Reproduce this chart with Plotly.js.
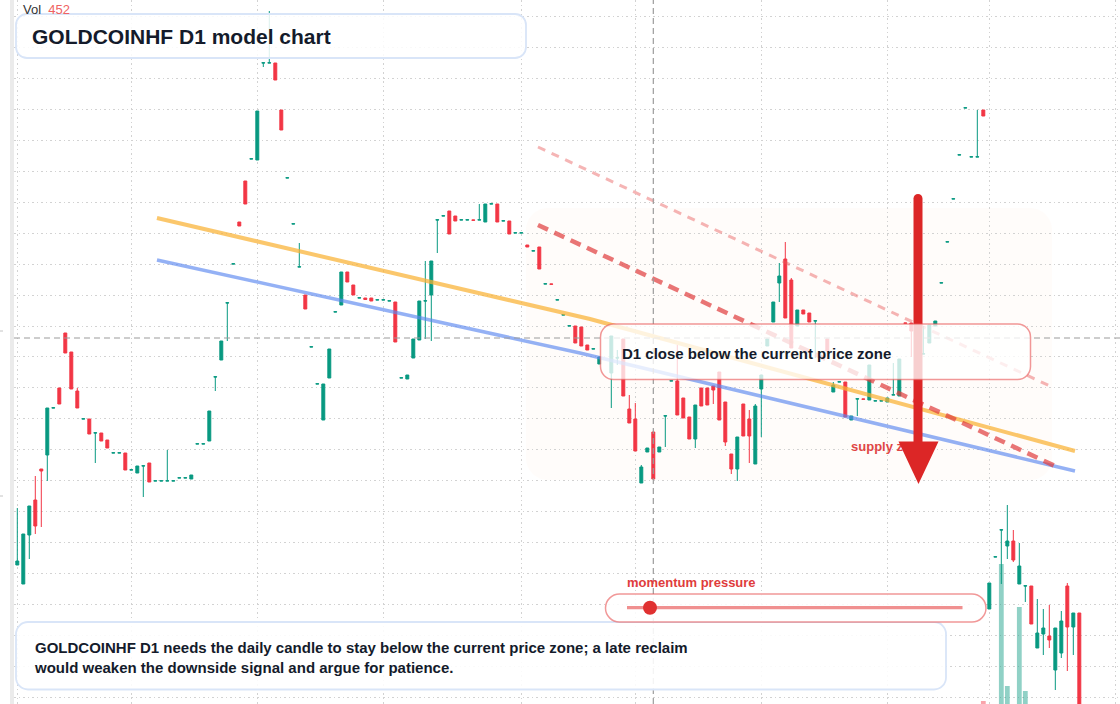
<!DOCTYPE html>
<html>
<head>
<meta charset="utf-8">
<script src="https://cdn.plot.ly/plotly-3.0.1.min.js"></script>
<style>
  html, body { margin: 0; padding: 0; background: #ffffff; }
  #chart { width: 1120px; height: 704px; }
</style>
</head>
<body>
<div id="chart"></div>
<script>
// ---- GOLDCOINHF daily candles (bar number, OHLC, volume) ----
const bar = [
  0,1,2,3,4,5,6,7,8,9,
  10,11,12,13,14,15,16,17,18,19,
  20,21,22,23,24,25,26,27,28,29,
  30,31,32,33,34,35,36,37,38,39,
  40,41,42,43,44,45,46,47,48,49,
  50,51,52,53,54,55,56,57,58,59,
  60,61,62,63,64,65,66,67,68,69,
  70,71,72,73,74,75,76,77,78,79,
  80,81,82,83,84,85,86,87,88,89,
  90,91,92,93,94,95,96,97,
  99,100,101,102,103,104,105,106,107,108,
  109,110,111,112,113,114,115,116,117,118,
  119,120,121,122,123,124,125,126,127,128,
  129,130,131,132,133,
  135,136,137,138,139,140,141,142,143,144,
  145,146,147,148,149,
  151,152,153,154,155,156,157,158,159,160,
  161,162,163,164,165,166,167,168,169,170,
  171,172,173,174,175,176,177
];
const open = [
  1435,1416,1465,1500,1531,1545,1592,1612,1667,1648,
  1609,1581,1581,1567,1567,1560,1547,1547,1547,1530,
  1527,1534,1537,1519,1519,1519,1519,1522,1522,1521,
  1556,1556,1559,1623,1640,1697,1736,1778,1819,1841,
  1840,1937,1937,1937,1890,1822,1776,1733,1705,1653,
  1616,1580,1622,1688,1695,1728,1715,1702,1702,1702,
  1700,1700,1699,1698,1622,1621,1642,1660,1699,1705,
  1780,1784,1789,1784,1780,1780,1780,1780,1778,1796,
  1796,1779,1779,1767,1767,1755,1749,1753,1716,1716,
  1700,1685,1674,1674,1673,1655,1651,1636,
  1627,1642,1661,1591,1581,1517,1548,1568,1548,1584,
  1619,1619,1602,1583,1561,1612,1612,1614,1628,1598,
  1546,1531,1596,1581,1536,1611,1654,1678,1717,1741,
  1720,1674,1690,1687,1679,
  1661,1608,1618,1618,1580,1601,1601,1600,1599,1599,
  1598,1605,1604,1677,1677,
  1646,1657,1674,1717,1758,1801,1845,1892,1843,1843,
  1890,1391,1443,1470,1454,1459,1416,1414,1414,1352,
  1366,1364,1330,1347,1414,1373,1387
];
const high = [
  1492,1466,1494,1524,1531,1592,1593,1612,1667,1648,
  1612,1581,1581,1567,1567,1560,1547,1547,1547,1530,
  1534,1534,1537,1519,1519,1550,1519,1522,1522,1525,
  1556,1556,1589,1623,1659,1697,1736,1778,1819,1841,
  1889,1937,1989,1937,1890,1822,1776,1757,1705,1653,
  1616,1616,1651,1688,1728,1728,1715,1702,1702,1702,
  1700,1700,1699,1698,1622,1625,1661,1699,1739,1739,
  1780,1784,1789,1784,1780,1780,1780,1796,1796,1796,
  1796,1779,1779,1767,1767,1755,1749,1753,1716,1716,
  1700,1685,1674,1674,1673,1655,1651,1643,
  1664,1650,1661,1605,1597,1535,1552,1568,1553,1584,
  1619,1655,1602,1583,1595,1612,1612,1614,1628,1598,
  1546,1563,1596,1590,1596,1625,1661,1698,1737,1758,
  1722,1690,1690,1687,1679,
  1661,1618,1618,1618,1584,1601,1601,1635,1599,1599,
  1602,1637,1641,1677,1677,
  1674,1675,1679,1717,1758,1801,1845,1892,1843,1890,
  1890,1417,1443,1470,1495,1470,1457,1414,1414,1401,
  1391,1395,1372,1389,1417,1387,1387
];
const low = [
  1435,1416,1441,1466,1473,1519,1592,1596,1647,1611,
  1592,1581,1566,1537,1559,1552,1547,1547,1530,1530,
  1527,1503,1518,1519,1519,1519,1519,1522,1522,1521,
  1556,1556,1559,1609,1640,1659,1736,1774,1796,1841,
  1840,1933,1937,1920,1870,1822,1776,1733,1691,1653,
  1616,1580,1622,1688,1695,1718,1705,1702,1700.5,1699,
  1700,1700,1699,1658,1622,1621,1642,1660,1661,1659,
  1747,1784,1766,1779,1780,1780,1779.8,1780,1778,1796,
  1778,1779,1766,1767,1767,1753,1749,1731,1716,1715.8,
  1700,1685,1674,1657,1654,1650,1651,1636,
  1592,1635,1604,1577,1549,1517,1548,1521,1548,1553,
  1619,1585,1582,1561,1552,1594,1595,1596,1580,1554,
  1526,1519,1564,1537,1536,1563,1654,1678,1698,1682,
  1652,1674,1686,1678,1642,
  1649,1608,1618,1583,1580,1584,1600.8,1600,1599,1599,
  1598,1605,1604,1676.8,1643,
  1646,1657,1674,1717,1758,1801,1845,1892,1843,1843,
  1884,1391,1443,1416,1441,1438,1416,1398,1376,1352,
  1345,1352,1310,1342,1329,1345,1270
];
const close = [
  1439,1466,1494,1474,1529,1592,1592.2,1596,1647,1611,
  1592,1581.2,1566,1567.2,1559,1552,1547.2,1547.2,1530,1530.2,
  1534,1534.2,1518,1519.2,1519.2,1519.2,1519.2,1522.2,1522.2,1525,
  1556.2,1556.2,1589,1623.2,1659,1697.2,1736.2,1774,1796,1841.2,
  1889,1937.2,1937.2,1920,1870,1822.2,1776.2,1733.2,1691,1653.2,
  1616.2,1616,1651,1688.2,1728,1718,1705,1702.2,1700.5,1699,
  1700.2,1700.2,1699.2,1658,1622.2,1625,1661,1699,1699.2,1739,
  1780.2,1784.2,1766,1779,1780.2,1780.2,1779.8,1780.2,1796,1796.2,
  1778,1779.2,1766,1767.2,1767.2,1753,1749.2,1731,1716.2,1715.8,
  1700.2,1685.2,1674.2,1657,1654,1650,1651.2,1643,
  1664,1642.2,1604,1577,1549,1533,1552,1521,1553,1584.2,
  1619.2,1585,1582,1561,1595,1594,1595,1610,1580,1558,
  1531,1563,1564,1564,1594,1625,1661,1698,1724,1682,
  1652,1690,1686,1678,1679.2,
  1649,1615,1618.2,1583,1584,1601.2,1600.8,1635,1599.2,1599.2,
  1602,1605.2,1641,1676.8,1669,
  1646.2,1675,1679,1717.2,1758.2,1801.2,1845.2,1892.2,1843.2,1843.2,
  1884,1417,1443.2,1470.2,1459,1440,1434,1414.2,1376,1367,
  1372,1360,1372,1379,1373,1387,1270
];
const volume = [
  310,420,380,360,290,470,240,260,330,350,
  300,210,250,230,220,200,180,170,240,160,
  190,230,260,150,140,200,130,150,140,170,
  190,180,330,260,300,280,250,270,310,230,
  420,260,380,350,340,260,240,270,250,230,
  220,330,300,210,360,240,220,180,170,160,
  150,140,160,390,260,200,290,340,280,310,
  250,230,280,200,160,150,140,190,230,170,
  220,180,230,160,150,170,160,260,210,190,
  200,210,220,260,250,190,170,200,
  320,210,380,290,330,360,240,452,230,260,
  240,340,280,300,320,250,230,210,330,310,
  270,350,290,300,360,280,230,260,310,410,
  390,250,200,220,240,
  230,280,190,300,220,200,180,290,170,160,
  200,210,300,220,260,
  210,280,230,260,280,300,310,330,290,320,
  512,470,430,1060,572,480,888,552,440,410,
  380,360,450,420,470,390,490
];

// month boundaries (bar numbers) used for the vertical grid
const monthStarts = [0, 19, 40, 61, 84, 103, 124, 145, 162, 183];

// drawn trend lines: [bar, price] anchor points
const channelUpperX = [23.28, 95.45, 176.28];
const channelUpperY = [1782, 1681, 1549];
const channelLowerX = [23.28, 93.78, 176.28];
const channelLowerY = [1740, 1647, 1529];
const supplyLineX = [86.78, 172.95];
const supplyLineY = [1775, 1534];
const supplyUpperX = [86.78, 172.45];
const supplyUpperY = [1853, 1613];

// crosshair
const crossBar = 106;
const crossPrice = 1662;
const crossVolume = volume[bar.indexOf(crossBar)];

// ---- colours ----
const UP = '#089981', DOWN = '#f23645';
const volColors = bar.map((b, i) => close[i] >= open[i] ? 'rgba(8,153,129,0.45)' : 'rgba(242,54,69,0.45)');

// ---- pixel helpers for overlay shapes (plot area starts at x=14) ----
const L = 14, W = 1106, H = 704;
const PX = v => (v - L) / W;
const PY = v => 1 - v / H;
const pt = (x, y) => PX(x).toFixed(5) + ',' + PY(y).toFixed(5);
function roundRect(x0, y0, x1, y1, r) {
  const k = 0.5523 * r;
  return 'M' + pt(x0 + r, y0) +
    ' L' + pt(x1 - r, y0) +
    ' C' + pt(x1 - r + k, y0) + ' ' + pt(x1, y0 + r - k) + ' ' + pt(x1, y0 + r) +
    ' L' + pt(x1, y1 - r) +
    ' C' + pt(x1, y1 - r + k) + ' ' + pt(x1 - r + k, y1) + ' ' + pt(x1 - r, y1) +
    ' L' + pt(x0 + r, y1) +
    ' C' + pt(x0 + r - k, y1) + ' ' + pt(x0, y1 - r + k) + ' ' + pt(x0, y1 - r) +
    ' L' + pt(x0, y0 + r) +
    ' C' + pt(x0, y0 + r - k) + ' ' + pt(x0 + r - k, y0) + ' ' + pt(x0 + r, y0) + ' Z';
}
const paperShape = (o) => Object.assign({ xref: 'paper', yref: 'paper', layer: 'above' }, o);

const FONT = 'Liberation Sans, Arial, Helvetica, sans-serif';
const INK = '#141b2b';

const traces = [
  {
    type: 'bar', x: bar, y: volume, yaxis: 'y', width: 0.8,
    marker: { color: volColors, line: { width: 0 } }, hoverinfo: 'skip'
  },
  {
    type: 'candlestick', x: bar, open: open, high: high, low: low, close: close,
    yaxis: 'y2', whiskerwidth: 0,
    increasing: { line: { color: UP, width: 1 }, fillcolor: UP },
    decreasing: { line: { color: DOWN, width: 1 }, fillcolor: DOWN },
    hoverinfo: 'skip'
  },
  {
    type: 'scatter', mode: 'lines', x: channelUpperX, y: channelUpperY, yaxis: 'y2',
    line: { color: 'rgba(249,178,51,0.72)', width: 4 }, hoverinfo: 'skip'
  },
  {
    type: 'scatter', mode: 'lines', x: channelLowerX, y: channelLowerY, yaxis: 'y2',
    line: { color: 'rgba(90,135,240,0.65)', width: 3.5 }, hoverinfo: 'skip'
  },
  {
    type: 'scatter', mode: 'lines', x: supplyUpperX, y: supplyUpperY, yaxis: 'y2',
    line: { color: 'rgba(232,90,90,0.45)', width: 3, dash: '8px,7px' }, hoverinfo: 'skip'
  },
  {
    type: 'scatter', mode: 'lines', x: supplyLineX, y: supplyLineY, yaxis: 'y2',
    line: { color: 'rgba(224,60,60,0.7)', width: 4.5, dash: '11px,7px' }, hoverinfo: 'skip'
  },
  {
    type: 'scatter', mode: 'text', x: [138.95], y: [1552], yaxis: 'y2',
    text: ['<b>supply zone</b>'], textposition: 'middle right',
    textfont: { family: FONT, size: 13, color: '#e04646' }, hoverinfo: 'skip'
  }
];

const shapes = [
  // supply zone backdrop
  paperShape({ type: 'path', layer: 'below', path: roundRect(526, 208, 1052, 480, 22),
    fillcolor: 'rgba(250,215,190,0.08)', line: { width: 0 } }),
  // left edge strip and tick stubs
  paperShape({ type: 'rect', x0: PX(10), x1: PX(14), y0: 0, y1: 1, fillcolor: '#ebebeb', line: { width: 0 } }),
  paperShape({ type: 'line', x0: PX(0), x1: PX(3), y0: PY(331), y1: PY(331), line: { color: '#c4c4c4', width: 1 } }),
  paperShape({ type: 'line', x0: PX(0), x1: PX(3), y0: PY(496), y1: PY(496), line: { color: '#c4c4c4', width: 1 } }),
  // crosshair
  { type: 'line', xref: 'x', yref: 'paper', x0: crossBar, x1: crossBar, y0: 0, y1: 1, layer: 'above',
    line: { color: '#9c9c9c', width: 1.2, dash: '6px,4px' } },
  { type: 'line', xref: 'paper', yref: 'y2', x0: 0, x1: 1, y0: crossPrice, y1: crossPrice, layer: 'above',
    line: { color: '#9c9c9c', width: 1.2, dash: '6px,4px' } },
  // downside arrow
  paperShape({ type: 'path',
    path: 'M' + pt(913.5, 445) + ' L' + pt(913.5, 198.5) + ' C' + pt(913.5, 196) + ' ' + pt(915.5, 194) + ' ' + pt(918, 194) +
          ' C' + pt(920.5, 194) + ' ' + pt(922.5, 196) + ' ' + pt(922.5, 198.5) + ' L' + pt(922.5, 445) + ' Z',
    fillcolor: '#dc2626', line: { width: 0 } }),
  paperShape({ type: 'path', path: 'M' + pt(898.5, 441.5) + ' L' + pt(938.5, 441.5) + ' L' + pt(918.5, 484) + ' Z',
    fillcolor: '#dc2626', line: { width: 0 } }),
  // callout
  paperShape({ type: 'path', path: roundRect(600.5, 324, 1030.5, 379.5, 13),
    fillcolor: 'rgba(255,255,255,0.78)', line: { color: 'rgba(232,84,84,0.6)', width: 1.5 } }),
  // title card
  paperShape({ type: 'path', path: roundRect(16, 14, 526, 58, 11),
    fillcolor: 'rgba(255,255,255,0.86)', line: { color: '#d9e5f8', width: 1.8 } }),
  // note card
  paperShape({ type: 'path', path: roundRect(16, 622, 946, 689.5, 12),
    fillcolor: 'rgba(255,255,255,0.88)', line: { color: '#d9e5f8', width: 1.8 } }),
  // momentum gauge
  paperShape({ type: 'path', path: roundRect(605.5, 594, 986, 622, 14),
    fillcolor: 'rgba(255,255,255,0.86)', line: { color: 'rgba(232,84,84,0.6)', width: 1.5 } }),
  paperShape({ type: 'line', x0: PX(627), x1: PX(962.5), y0: PY(607.7), y1: PY(607.7),
    line: { color: 'rgba(232,84,84,0.65)', width: 3.2 } }),
  paperShape({ type: 'circle', x0: PX(643), x1: PX(657), y0: PY(600.7), y1: PY(614.7),
    fillcolor: '#e03131', line: { width: 0 } })
];

const note = (o) => Object.assign({ xref: 'paper', yref: 'paper', xanchor: 'left', yanchor: 'middle',
  showarrow: false, borderpad: 0, borderwidth: 0 }, o);

const annotations = [
  note({ x: PX(23), y: PY(9),
    text: 'Vol\u00a0\u00a0<span style="color:#f06262">' + crossVolume + '</span>',
    font: { family: FONT, size: 13, color: '#333333' } }),
  note({ x: PX(32), y: PY(36),
    text: '<b>GOLDCOINHF D1 model chart</b>', font: { family: FONT, size: 21, color: INK } }),
  note({ x: PX(622), y: PY(353),
    text: '<b>D1 close below the current price zone</b>', font: { family: FONT, size: 15, color: INK } }),
  note({ x: PX(34), y: PY(657.5), align: 'left',
    text: '<b>GOLDCOINHF D1 needs the daily candle to stay below the current price zone; a late reclaim</b><br>' +
          '<b>would weaken the downside signal and argue for patience.</b>',
    font: { family: FONT, size: 15, color: INK } }),
  note({ x: PX(627), y: PY(582.5),
    text: '<b>momentum pressure</b>', font: { family: FONT, size: 13, color: '#e03c3c' } })
];

const layout = {
  width: 1120, height: 704,
  margin: { l: L, r: 0, t: 0, b: 0 },
  paper_bgcolor: '#ffffff', plot_bgcolor: '#ffffff',
  showlegend: false,
  boxgap: 0.3,
  xaxis: {
    range: [-0.55, 183.78], tickvals: monthStarts, showticklabels: false, ticks: '',
    showgrid: true, gridcolor: '#d2d2d2', gridwidth: 1, griddash: '1.5px,3px',
    zeroline: false, showline: false, rangeslider: { visible: false }, fixedrange: true
  },
  yaxis: { range: [500, 3316], visible: false, showgrid: false, zeroline: false, fixedrange: true },
  yaxis2: {
    overlaying: 'y', range: [1296, 2000], tick0: 1983.5, dtick: 30.95,
    showticklabels: false, ticks: '', showgrid: true, gridcolor: '#d2d2d2', gridwidth: 1, griddash: '1.5px,3px',
    zeroline: false, showline: false, fixedrange: true
  },
  shapes: shapes,
  annotations: annotations
};

Plotly.newPlot('chart', traces, layout, { staticPlot: true, displayModeBar: false });
</script>
</body>
</html>
